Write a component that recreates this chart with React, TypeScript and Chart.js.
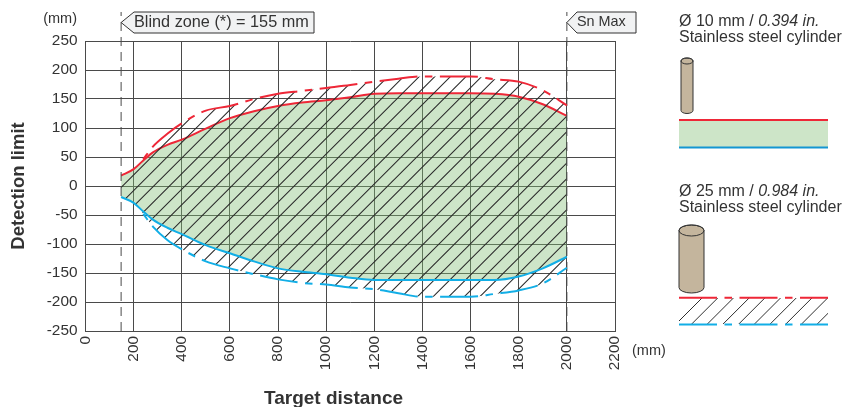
import React, { useEffect, useRef } from "react";
import { Chart, registerables } from "chart.js";

Chart.register(...registerables);

const distances = [148, 200, 240, 280, 340, 400, 500, 600, 700, 800, 900, 1000, 1100, 1200, 1300, 1400, 1500, 1600, 1700, 1800, 1900, 2000];
const redSolid = [18, 29, 44, 58, 71, 80, 99, 117, 129, 138, 144, 148, 153, 159, 160, 160, 160, 160, 159, 154, 141, 121];
const redDash = [null, null, 46, 68, 90, 108, 130, 138, 150, 159, 164, 169, 174, 180, 185, 189, 189, 189, 184, 180, 165, 139];
const blueSolid = [-19, -29, -44, -58, -72, -83, -102, -116, -130, -142, -148, -152, -158, -162, -162, -162, -162, -162, -162, -156, -142, -122];
const blueDash = [null, null, -48, -70, -93, -109, -130, -142, -152, -161, -167, -170, -175, -178, -185, -191, -191, -191, -186, -180, -168, -141];
const blindZoneMarker = 148;
const snMax = 2000;
const markerTop = 300;
const xTicks = [0, 200, 400, 600, 800, 1000, 1200, 1400, 1600, 1800, 2000, 2200];
const yTicks = [250, 200, 150, 100, 50, 0, -50, -100, -150, -200, -250];

const RED = "#ee2737";
const BLUE = "#12aee6";
const TEXT = "#333333";
const GRID = "#4a4a4a";
const DASH = [38, 7.5, 7.5, 7.5];
const FONT = '"Liberation Sans", Arial, sans-serif';

function pts(values: (number | null)[]) {
  return distances.map((x, i) => ({ x, y: values[i] }));
}

function makeHatch(ctx: CanvasRenderingContext2D) {
  const size = 78;
  const step = 15.6;
  const phase = 12.2;
  const tile = document.createElement("canvas");
  tile.width = size;
  tile.height = size;
  const t = tile.getContext("2d")!;
  t.strokeStyle = "#2a2a2a";
  t.lineWidth = 1.05;
  t.beginPath();
  for (let c = phase - step; c < size * 2 + step; c += step) {
    t.moveTo(-4, c + 4);
    t.lineTo(c + 4, -4);
  }
  t.stroke();
  return ctx.createPattern(tile, "repeat")!;
}

function callout(ctx: CanvasRenderingContext2D, tip: number, shoulder: number, right: number, text: string, size: number) {
  ctx.beginPath();
  ctx.moveTo(tip, 22.5);
  ctx.lineTo(shoulder, 12);
  ctx.lineTo(right, 12);
  ctx.lineTo(right, 33);
  ctx.lineTo(shoulder, 33);
  ctx.closePath();
  ctx.fillStyle = "#f1f2f3";
  ctx.fill();
  ctx.strokeStyle = "#333";
  ctx.lineWidth = 1;
  ctx.stroke();
  ctx.fillStyle = TEXT;
  ctx.font = `${size}px ${FONT}`;
  ctx.textAlign = "left";
  ctx.textBaseline = "middle";
  ctx.fillText(text, shoulder, 22.5);
}

function cylinder(ctx: CanvasRenderingContext2D, x0: number, x1: number, top: number, bottom: number, ry: number) {
  const cx = (x0 + x1) / 2;
  const rx = (x1 - x0) / 2;
  ctx.fillStyle = "#c4b59d";
  ctx.strokeStyle = "#333";
  ctx.lineWidth = 1;
  ctx.beginPath();
  ctx.moveTo(x0, top);
  ctx.lineTo(x0, bottom - ry);
  ctx.ellipse(cx, bottom - ry, rx, ry, 0, Math.PI, 0, true);
  ctx.lineTo(x1, top);
  ctx.ellipse(cx, top, rx, ry, 0, 0, Math.PI, true);
  ctx.closePath();
  ctx.fill();
  ctx.stroke();
  ctx.beginPath();
  ctx.ellipse(cx, top, rx, ry, 0, 0, Math.PI * 2);
  ctx.stroke();
}

function heading(ctx: CanvasRenderingContext2D, size: string, inches: string, y: number) {
  ctx.fillStyle = TEXT;
  ctx.textAlign = "left";
  ctx.textBaseline = "middle";
  ctx.font = `16px ${FONT}`;
  const first = `Ø ${size} mm / `;
  ctx.fillText(first, 679, y);
  const w = ctx.measureText(first).width;
  ctx.font = `italic 16px ${FONT}`;
  ctx.fillText(inches, 679 + w, y);
  ctx.font = `16px ${FONT}`;
  ctx.fillText("Stainless steel cylinder", 679, y + 15.5);
}

const decorations = {
  id: "decorations",
  afterDraw(chart: any) {
    const ctx: CanvasRenderingContext2D = chart.ctx;
    const xs = chart.scales.x;
    ctx.save();
    ctx.fillStyle = TEXT;
    ctx.font = `14.5px ${FONT}`;
    ctx.textBaseline = "middle";
    ctx.textAlign = "right";
    ctx.fillText("(mm)", 77, 19);
    ctx.textAlign = "left";
    ctx.fillText("(mm)", 632, 351);
    ctx.font = `bold 19px ${FONT}`;
    ctx.textAlign = "center";
    ctx.fillText("Target distance", 333.5, 399);

    callout(ctx, xs.getPixelForValue(blindZoneMarker), 134, 314, "Blind zone (*) = 155 mm", 16.25);
    callout(ctx, xs.getPixelForValue(snMax), 577, 636, "Sn Max", 14.4);

    heading(ctx, "10", "0.394 in.", 22);
    cylinder(ctx, 681, 693, 61, 113.5, 3);
    ctx.fillStyle = "#cde5c8";
    ctx.fillRect(679, 120, 149, 27.5);
    ctx.lineWidth = 2;
    ctx.strokeStyle = RED;
    ctx.beginPath();
    ctx.moveTo(679, 120);
    ctx.lineTo(828, 120);
    ctx.stroke();
    ctx.strokeStyle = "#1496d2";
    ctx.beginPath();
    ctx.moveTo(679, 147.5);
    ctx.lineTo(828, 147.5);
    ctx.stroke();

    heading(ctx, "25", "0.984 in.", 192);
    cylinder(ctx, 679, 704, 230.5, 293, 5.5);
    ctx.save();
    ctx.beginPath();
    ctx.rect(679, 298, 149, 26);
    ctx.clip();
    ctx.strokeStyle = "#2e2e2e";
    ctx.lineWidth = 1;
    ctx.beginPath();
    for (let x = 675; x < 860; x += 15.7) {
      ctx.moveTo(x, 325);
      ctx.lineTo(x + 27, 298);
    }
    ctx.stroke();
    ctx.restore();
    ctx.lineWidth = 2;
    ctx.setLineDash(DASH);
    ctx.strokeStyle = RED;
    ctx.beginPath();
    ctx.moveTo(679, 297.7);
    ctx.lineTo(828, 297.7);
    ctx.stroke();
    ctx.strokeStyle = BLUE;
    ctx.beginPath();
    ctx.moveTo(679, 324.5);
    ctx.lineTo(828, 324.5);
    ctx.stroke();
    ctx.restore();
  },
};

export default function App() {
  const ref = useRef<HTMLCanvasElement>(null);
  useEffect(() => {
    document.body.style.margin = "0";
    const ctx = ref.current!.getContext("2d")!;
    const hatch = makeHatch(ctx);
    const hatchTop = redDash.map((v, i) => v ?? redSolid[i]);
    const hatchBottom = blueDash.map((v, i) => v ?? blueSolid[i]);
    const curve = { cubicInterpolationMode: "monotone" as const, pointRadius: 0 };
    const marker = (x: number) => ({
      label: `marker ${x}`,
      data: [{ x, y: -250 }, { x, y: markerTop }],
      borderColor: "#4a4a4a",
      borderWidth: 1,
      borderDash: [9, 6],
      pointRadius: 0,
      clip: false as const,
      order: 1,
    });
    const plainTick = (value: any) => String(value);
    const chart = new Chart(ctx, {
      type: "line",
      data: {
        datasets: [
          { label: "10 mm upper", data: pts(redSolid), borderColor: RED, borderWidth: 2, fill: { target: 1 }, backgroundColor: "rgba(130,190,118,0.4)", order: 4, ...curve },
          { label: "10 mm lower", data: pts(blueSolid), borderColor: BLUE, borderWidth: 2, fill: false, order: 2, ...curve },
          { label: "hatch upper", data: pts(hatchTop), borderWidth: 0, borderColor: "transparent", fill: { target: 3 }, backgroundColor: hatch, order: 3, ...curve },
          { label: "hatch lower", data: pts(hatchBottom), borderWidth: 0, borderColor: "transparent", fill: false, order: 3, ...curve },
          { label: "25 mm upper", data: pts(redDash), borderColor: RED, borderWidth: 2, borderDash: [7.5, 7.5, 38, 7.5], fill: false, order: 0, ...curve },
          { label: "25 mm lower", data: pts(blueDash), borderColor: BLUE, borderWidth: 2, borderDash: [7.5, 7.5, 38, 7.5], fill: false, order: 0, ...curve },
          marker(blindZoneMarker),
          marker(snMax),
        ] as any,
      },
      options: {
        responsive: false,
        animation: false,
        devicePixelRatio: 1,
        layout: { padding: { top: 41, right: 230, left: 0, bottom: 0 } },
        plugins: { legend: { display: false }, tooltip: { enabled: false }, title: { display: false } },
        scales: {
          x: {
            type: "linear",
            min: 0,
            max: 2200,
            afterBuildTicks: (s: any) => { s.ticks = xTicks.map((value) => ({ value })); },
            afterFit: (s: any) => { s.height = 76; },
            grid: { color: GRID, lineWidth: 1, drawTicks: false },
            border: { color: GRID, width: 1 },
            ticks: { color: TEXT, font: { family: FONT, size: 15.4 }, minRotation: 90, maxRotation: 90, padding: 5, autoSkip: false, callback: plainTick },
          },
          y: {
            type: "linear",
            min: -250,
            max: 250,
            afterBuildTicks: (s: any) => { s.ticks = yTicks.map((value) => ({ value })); },
            afterFit: (s: any) => { s.width = 85.5; },
            grid: { color: GRID, lineWidth: 1, drawTicks: false },
            border: { color: GRID, width: 1 },
            ticks: { color: TEXT, font: { family: FONT, size: 15.4 }, padding: 8, autoSkip: false, callback: plainTick },
            title: { display: true, text: "Detection limit", color: TEXT, font: { family: FONT, size: 18.5, weight: "bold" }, padding: { top: 8, bottom: 0 } },
          },
        },
      } as any,
      plugins: [decorations],
    });
    return () => chart.destroy();
  }, []);
  return <canvas ref={ref} width={845} height={407} style={{ position: "fixed", left: 0, top: 0, display: "block" }} />;
}
